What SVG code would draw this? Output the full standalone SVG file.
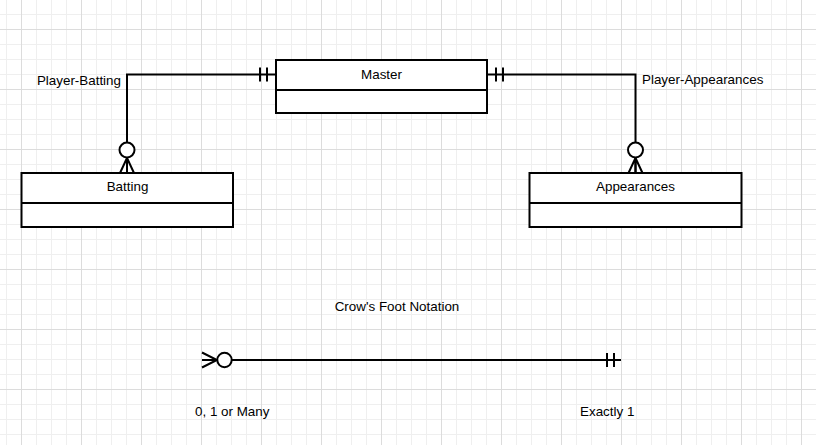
<svg xmlns="http://www.w3.org/2000/svg" width="816" height="445" viewBox="0 0 816 445">
<defs>
<pattern id="minor" patternUnits="userSpaceOnUse" x="6" y="14" width="15" height="15">
<path d="M0 0.5H15M0.5 0V15" fill="none" stroke="#efefef" stroke-width="1"/>
</pattern>
<pattern id="major" patternUnits="userSpaceOnUse" x="21" y="29" width="60" height="60">
<path d="M0 0.5H60M0.5 0V60" fill="none" stroke="#dcdcdc" stroke-width="1"/>
</pattern>
</defs>
<style>
.box{fill:#fff;stroke:#000;stroke-width:2}
.ln{fill:none;stroke:#000;stroke-width:2}
.c{fill:#fff;stroke:#000;stroke-width:2}
text{font-family:"Liberation Sans",Arial,sans-serif;font-size:13.4px;fill:#000}
.m{text-anchor:middle}
</style>
<rect width="816" height="445" fill="#fff"/>
<rect width="816" height="445" fill="url(#minor)"/>
<rect width="816" height="445" fill="url(#major)"/>

<g id="connectors">
<g id="conn-player-batting">
<path class="ln" d="M276 74.5H127V173"/>
<path class="ln" d="M260 67.5V81.5M267 67.5V81.5"/>
<path class="ln" d="M127 158L120 173M127 158V173M127 158L134 173"/>
<circle class="c" cx="127" cy="150" r="7.5"/>
</g>
<g id="conn-player-appearances">
<path class="ln" d="M487 74.5H635.5V173"/>
<path class="ln" d="M496 67.5V81.5M503 67.5V81.5"/>
<path class="ln" d="M635.5 158L628.5 173M635.5 158V173M635.5 158L642.5 173"/>
<circle class="c" cx="635.5" cy="150" r="7.5"/>
</g>
<g id="legend-line">
<path class="ln" stroke="#222" d="M232 360H621"/>
<path class="ln" d="M202 352.5L217 360L202 367.5M202 360H217"/>
<circle class="c" cx="224.5" cy="360" r="7.2"/>
<path class="ln" d="M607 353V367M614 353V367"/>
</g>
<text x="121" y="85" text-anchor="end">Player-Batting</text>
<text x="642" y="83.5">Player-Appearances</text>
</g>

<g id="master">
<rect class="box" x="276" y="60" width="211" height="53"/>
<path class="ln" d="M276 90H487"/>
<text class="m" x="381.5" y="78.5">Master</text>
</g>

<g id="batting">
<rect class="box" x="21.5" y="173" width="211.5" height="54"/>
<path class="ln" d="M21.5 203H233"/>
<text class="m" x="127.5" y="191">Batting</text>
</g>

<g id="appearances">
<rect class="box" x="529.5" y="173" width="212" height="54"/>
<path class="ln" d="M529.5 203H741.5"/>
<text class="m" x="635.5" y="191">Appearances</text>
</g>

<g id="legend">
<text class="m" x="397" y="311">Crow's Foot Notation</text>
<text x="195" y="416">0, 1 or Many</text>
<text x="580" y="416">Exactly 1</text>
</g>
</svg>
